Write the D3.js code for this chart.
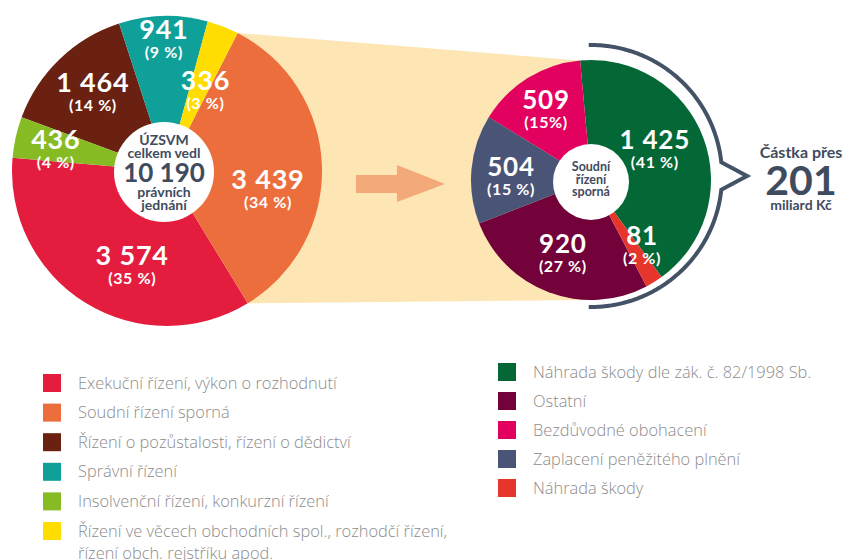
<!DOCTYPE html>
<html><head><meta charset="utf-8">
<script src="https://cdn.jsdelivr.net/npm/d3@7"></script>
<style>body{margin:0;background:#fff}svg{display:block}</style>
</head><body>
<svg id="c" width="845" height="560"></svg>
<script>
// ---- data ----
const mainCategories = ["Exekuční řízení, výkon o rozhodnutí","Soudní řízení sporná","Řízení o pozůstalosti, řízení o dědictví","Správní řízení","Insolvenční řízení, konkurzní řízení","Řízení ve věcech obchodních spol., rozhodčí řízení, řízení obch. rejstříku apod."];
const mainValues = [3574, 3439, 1464, 941, 436, 336];
const mainLabels = ["3 574", "3 439", "1 464", "941", "436", "336"];
const mainPercents = ["(35 %)", "(34 %)", "(14 %)", "(9 %)", "(4 %)", "(3 %)"];
const mainDrawOrder = [3, 5, 1, 0, 4, 2];
const mainCenterText = ["ÚZSVM", "celkem vedl", "10 190", "právních", "jednání"];

const subCategories = ["Náhrada škody dle zák. č. 82/1998 Sb.","Ostatní","Bezdůvodné obohacení","Zaplacení peněžitého plnění","Náhrada škody"];
const subValues = [1425, 920, 509, 504, 81];
const subLabels = ["1 425", "920", "509", "504", "81"];
const subPercents = ["(41 %)", "(27 %)", "(15%)", "(15 %)", "(2 %)"];
const subDrawOrder = [0, 4, 1, 3, 2];
const subCenterText = ["Soudní", "řízení", "sporná"];
const amountText = ["Částka přes", "201", "miliard Kč"];

// ---- styles / layout ----
const mainColors = ["#e41d3f","#ec6e3c","#6a2112","#0fa199","#87bb24","#ffdd00"];
const subColors = ["#036836","#720239","#e2015f","#4a5476","#e6352b"];
const mainLabelNudge = [[-11.8,102],[13.6,103],[0,107],[0,130],[-2.3,113],[4.7,88]];
const subLabelNudge = [[-3.8,70],[0,80],[-1.4,82],[-3.4,80],[-5.6,84]];
const L = {cx:167, cy:171, r:155, hx:164, hy:172, hr:50, start:-18};
const R = {cx:591, cy:180, r:120, hx:591, hy:182, hr:38, start:-5.2};
const dark = "#3f4b5e";
const rad = d => d * Math.PI / 180;

const svg = d3.select("#c");

function makePie(values, order, start) {
  const items = values.map((v, i) => ({v, i}));
  return d3.pie().value(d => d.v)
    .sort((a, b) => order.indexOf(a.i) - order.indexOf(b.i))
    .startAngle(rad(start)).endAngle(rad(start) + 2 * Math.PI)(items);
}
const mainArcs = makePie(mainValues, mainDrawOrder, L.start);
const subArcs = makePie(subValues, subDrawOrder, R.start);
const pt = (c, r, a) => [c.cx + r * Math.sin(a), c.cy - r * Math.cos(a)];

// beige connector from the orange slice to the sub pie
const orange = mainArcs.find(d => d.data.i === 1);
const poly = [
  pt(L, L.r, orange.startAngle),
  pt(R, R.r, subArcs[0].startAngle),
  pt(R, R.r, rad(182)),
  pt(L, L.r, orange.endAngle)
];
svg.append("polygon").attr("points", poly.map(p => p.join(",")).join(" ")).attr("fill", "#fde6b4");

// arrow
svg.append("path").attr("d", "M356,175 L397,175 L397,165 L445,184 L397,202 L397,193 L356,193 Z").attr("fill", "#f4a97a");

function drawPie(c, arcs, colors, labels, percents, nudge, numSize, pctSize) {
  const g = svg.append("g").attr("transform", `translate(${c.cx},${c.cy})`);
  const arc = d3.arc().innerRadius(0).outerRadius(c.r);
  g.selectAll("path.s").data(arcs).join("path").attr("class", "s")
    .attr("d", arc).attr("fill", d => colors[d.data.i]);
  const lg = svg.append("g").attr("transform", `translate(${c.cx},${c.cy})`);
  arcs.forEach(d => {
    const i = d.data.i;
    const a = (d.startAngle + d.endAngle) / 2 + rad(nudge[i][0]);
    const r = nudge[i][1];
    const x = r * Math.sin(a), y = -r * Math.cos(a);
    const t = lg.append("g").attr("transform", `translate(${x},${y})`);
    t.append("text").attr("text-anchor", "middle").attr("y", -2)
      .attr("font-family", "Lato").attr("font-weight", 700).attr("font-size", numSize)
      .attr("letter-spacing", 0.8).attr("fill", "#fff").text(labels[i]);
    t.append("text").attr("text-anchor", "middle").attr("y", 17)
      .attr("font-family", "Lato").attr("font-weight", 700).attr("font-size", pctSize)
      .attr("letter-spacing", 0.6).attr("fill", "#fff").text(percents[i]);
  });
}
drawPie(L, mainArcs, mainColors, mainLabels, mainPercents, mainLabelNudge, 27, 16);
drawPie(R, subArcs, subColors, subLabels, subPercents, subLabelNudge, 26, 16);

// holes
svg.append("circle").attr("cx", L.hx).attr("cy", L.hy).attr("r", L.hr).attr("fill", "#fff");
svg.append("circle").attr("cx", R.hx).attr("cy", R.hy).attr("r", R.hr).attr("fill", "#fff");

const ct = svg.append("text").attr("text-anchor", "middle").attr("font-family", "Lato")
  .attr("font-weight", 700).attr("fill", dark);
[[145,14],[158,14],[182,26],[197,14],[210,14]].forEach((p, k) => {
  ct.append("tspan").attr("x", L.hx).attr("y", p[0]).attr("font-size", p[1]).text(mainCenterText[k]);
});
const st = svg.append("text").attr("text-anchor", "middle").attr("font-family", "Lato")
  .attr("font-weight", 700).attr("fill", dark).attr("font-size", 12.5);
[171, 184, 196].forEach((y, k) => st.append("tspan").attr("x", R.hx).attr("y", y).text(subCenterText[k]));

// bracket
const B = {cx:591, cy:176, r:131};
const bp = d3.path();
const toXY = a => [B.cx + B.r * Math.sin(rad(a)), B.cy - B.r * Math.cos(rad(a))];
let p0 = toXY(-1);
bp.moveTo(p0[0], p0[1]);
for (let a = -1; a <= 84; a += 1) { const p = toXY(a); bp.lineTo(p[0], p[1]); }
bp.lineTo(747, 176);
for (let a = 96; a <= 181; a += 1) { const p = toXY(a); bp.lineTo(p[0], p[1]); }
svg.append("path").attr("d", bp.toString()).attr("fill", "none").attr("stroke", "#445268")
  .attr("stroke-width", 4).attr("stroke-linejoin", "miter");

const at = svg.append("text").attr("text-anchor", "middle").attr("font-family", "Lato")
  .attr("font-weight", 700).attr("fill", dark);
[[158,16],[195,41],[210,14]].forEach((p, k) => at.append("tspan").attr("x", 801).attr("y", p[0]).attr("font-size", p[1]).text(amountText[k]));

// legends
function legend(x, y0, step, cats, colors, maxW) {
  cats.forEach((c, i) => {
    const y = y0 + i * step;
    svg.append("rect").attr("x", x).attr("y", y - 9).attr("width", 18).attr("height", 18).attr("fill", colors[i]);
    const t = svg.append("text").attr("x", x + 35).attr("y", y + 5.5)
      .attr("font-family", "Open Sans").attr("font-weight", 300).attr("font-size", 16.4).attr("fill", "#8c8c8c");
    const words = c.split(" ");
    let line = [], ts = t.append("tspan").attr("x", x + 35);
    words.forEach(w => {
      line.push(w); ts.text(line.join(" "));
      if (ts.node().getComputedTextLength() > maxW && line.length > 1) {
        line.pop(); ts.text(line.join(" "));
        line = [w];
        ts = t.append("tspan").attr("x", x + 35).attr("dy", 22).text(w);
      }
    });
  });
}
legend(43, 383, 29.6, mainCategories, mainColors, 385);
legend(498, 372, 29, subCategories, subColors, 400);
</script>
</body></html>
